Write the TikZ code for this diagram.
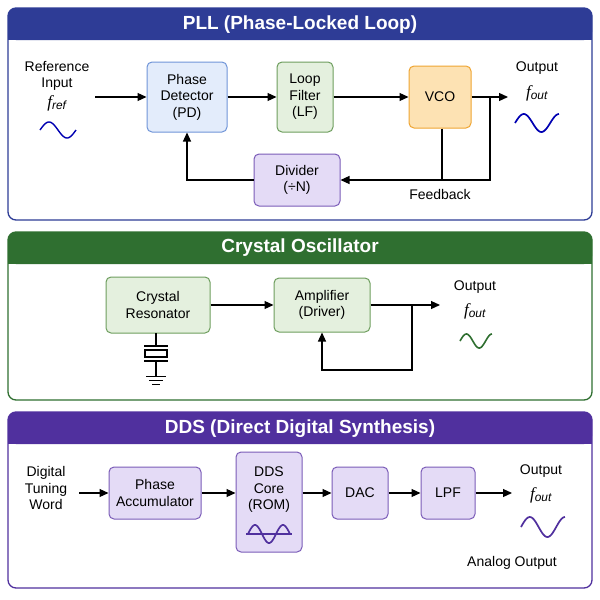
\documentclass[tikz,border=0pt]{standalone}
\usepackage{fontspec}
\setmainfont{Liberation Sans}
\newfontfamily\serf{Liberation Serif}
\usetikzlibrary{arrows.meta}
\definecolor{pb}{HTML}{2E3C96}\definecolor{pg}{HTML}{2F6F30}\definecolor{pp}{HTML}{50309E}
\definecolor{bf}{HTML}{E3ECFB}\definecolor{bd}{HTML}{7095D8}
\definecolor{gf}{HTML}{E4F0DE}\definecolor{gd}{HTML}{6E9E5E}
\definecolor{of}{HTML}{FDE2B3}\definecolor{od}{HTML}{EFA532}
\definecolor{vf}{HTML}{E4DBF6}\definecolor{vd}{HTML}{7B5CB8}
\newcommand{\fo}[1]{{\serf\itshape f}\textsubscript{\itshape #1}}
\begin{document}
\begin{tikzpicture}[x=1pt,y=-1pt,font=\fontsize{14}{16.5}\selectfont,
 blk/.style={draw,rounded corners=5pt,line width=1pt,align=center,inner sep=0pt},
 arr/.style={-{Triangle[length=9pt,width=8pt]},line width=1.2pt},
 ln/.style={line width=1.2pt},
 lab/.style={align=center,inner sep=0pt}]
\useasboundingbox (0,0) rectangle (600,600);
% panels
\foreach \ya/\yb/\c in {8/220/pb,232/400/pg,412/588/pp}{
 \draw[\c,line width=1.3pt,rounded corners=8pt,fill=white] (8,\ya) rectangle (592,\yb);
 \fill[\c,rounded corners=8pt] (8,\ya) rectangle (592,\ya+32);
 \fill[\c] (8,\ya+20) rectangle (592,\ya+32);}
\node[white,font=\fontsize{19}{21}\selectfont\bfseries] (t1) at (300,25) {PLL (Phase-Locked Loop)};
\node[white,font=\fontsize{19}{21}\selectfont\bfseries] (t2) at (300,248) {Crystal Oscillator};
\node[white,font=\fontsize{19}{21}\selectfont\bfseries] (t3) at (300,429) {DDS (Direct Digital Synthesis)};
% PLL
\node[blk,draw=bd,fill=bf,minimum width=80,minimum height=70] (pd) at (187,97) {Phase\\Detector\\(PD)};
\node[blk,draw=gd,fill=gf,minimum width=56,minimum height=70] (lf) at (305,97) {Loop\\Filter\\(LF)};
\node[blk,draw=od,fill=of,minimum width=62,minimum height=62] (vco) at (440,97) {VCO};
\node[blk,draw=vd,fill=vf,minimum width=86,minimum height=52] (div) at (297,180) {Divider\\(÷N)};
\node[lab] (ri) at (57,76) {Reference\\Input};
\node[lab,font=\fontsize{17}{19}\selectfont] (fr) at (57,103) {\fo{ref}};
\node[lab] (o1) at (537,68) {Output};
\node[lab,font=\fontsize{17}{19}\selectfont] (fo1) at (537,93) {\fo{out}};
\node[lab] (fb) at (440,194) {Feedback};
\draw[blue!70!black,line width=1.4pt,domain=0:1,samples=40] plot ({40+36*\x},{130-8*sin(360*\x)});
\draw[blue!70!black,line width=1.7pt,domain=0:1.25,samples=40] plot ({515+44*\x/1.25},{123-9*sin(360*\x)});
\coordinate (in1) at (95,97);
\coordinate (out1) at (508,97);
\coordinate (j1) at (490,97);
\coordinate (c1) at (490,180);
\coordinate (c2) at (442,180);
\draw[arr] (in1) -- (pd);
\draw[arr] (pd) -- (lf);
\draw[arr] (lf) -- (vco);
\draw[arr] (vco) -- (out1);
\draw[ln] (j1) -- (c1) -- (c2);
\draw[ln] (vco.south -| c2) -- (c2);
\draw[arr] (c2) -- (div.east);
\draw[arr] (div.west) -| (pd.south);
% Crystal
\node[blk,draw=gd,fill=gf,minimum width=104,minimum height=56] (xr) at (158,305) {Crystal\\Resonator};
\node[blk,draw=gd,fill=gf,minimum width=96,minimum height=54] (amp) at (322,305) {Amplifier\\(Driver)};
\node[lab] (o2) at (475,287) {Output};
\node[lab,font=\fontsize{17}{19}\selectfont] (fo2) at (475,311) {\fo{out}};
\draw[pg,line width=1.6pt,domain=0:1.25,samples=40] plot ({460+32*\x/1.25},{341-7*sin(360*\x)});
\coordinate (out2) at (440,305);
\coordinate (k1) at (412,305);
\coordinate (k2) at (412,370);
\draw[arr] (xr) -- (amp);
\draw[arr] (amp) -- (out2);
\draw[arr] (k1) -- (k2) -| (amp.south);
\coordinate (x0) at (156,333);
\draw[ln] (x0) -- (156,346);
\draw[ln] (144,346) -- (168,346);
\draw[line width=1.1pt] (145,350) rectangle (167,357);
\draw[ln] (144,361) -- (168,361) (156,361) -- (156,376);
\draw[line width=1pt] (146,376) -- (166,376) (149,380) -- (163,380) (152,384) -- (160,384);
% DDS
\node[lab] (dtw) at (46,488) {Digital\\Tuning\\Word};
\node[blk,draw=vd,fill=vf,minimum width=92,minimum height=52] (pa) at (155,493) {Phase\\Accumulator};
\node[blk,draw=vd,fill=vf,minimum width=66,minimum height=100] (core) at (269,502) {};
\node[lab] (ct) at (269,490) {DDS\\Core\\(ROM)};
\draw[pp,line width=1.1pt] (246,534) -- (292,534);
\draw[pp,line width=1.7pt,domain=0:1.5,samples=40] plot ({248+42*\x/1.5},{534-9*sin(360*\x)});
\node[blk,draw=vd,fill=vf,minimum width=56,minimum height=52] (dac) at (360,493) {DAC};
\node[blk,draw=vd,fill=vf,minimum width=54,minimum height=52] (lpf) at (448,493) {LPF};
\node[lab] (o3) at (541,471) {Output};
\node[lab,font=\fontsize{17}{19}\selectfont] (fo3) at (541,495) {\fo{out}};
\draw[pp,line width=1.7pt,domain=0:1.25,samples=40] plot ({521+44*\x/1.25},{527-10*sin(360*\x)});
\node[lab] (ao) at (512,563) {Analog Output};
\coordinate (in3) at (79,493);
\coordinate (out3) at (512,493);
\draw[arr] (in3) -- (pa);
\draw[arr] (pa) -- (pa -| core.west);
\draw[arr] (core.east |- dac) -- (dac);
\draw[arr] (dac) -- (lpf);
\draw[arr] (lpf) -- (out3);
\end{tikzpicture}
\end{document}
